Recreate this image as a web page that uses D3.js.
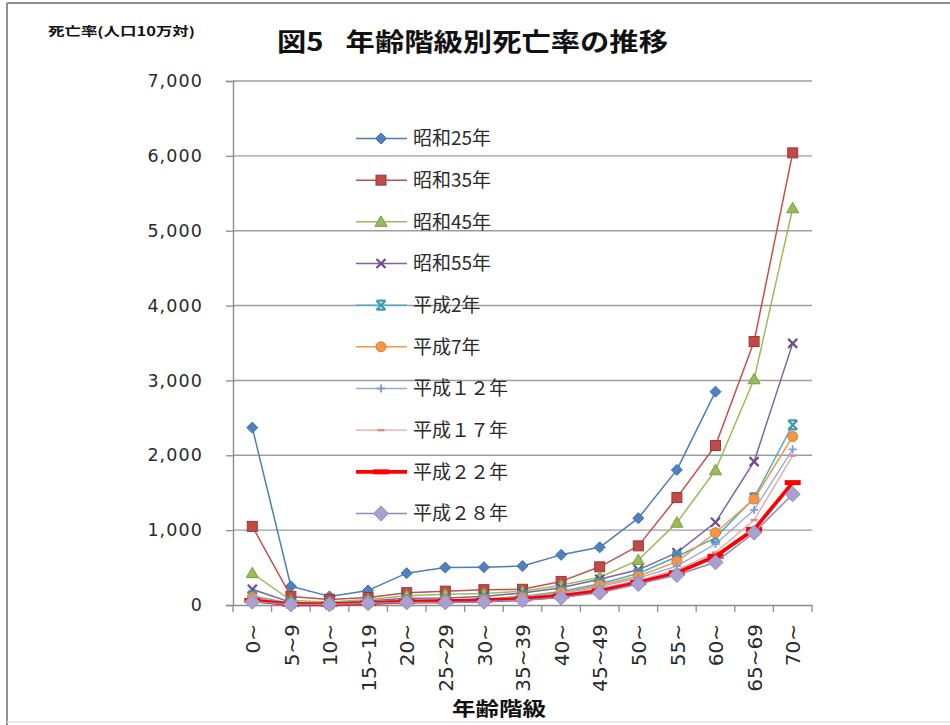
<!DOCTYPE html>
<html>
<head>
<meta charset="utf-8">
<script src="https://cdn.jsdelivr.net/npm/d3@7"></script>
<style>
  body { margin: 0; background: #fff; }
  svg { display: block; }
</style>
</head>
<body>
<svg id="chart" width="950" height="725"></svg>
<script>
// Age groups (x axis)
const categories = ["0~", "5~9", "10~", "15~19", "20~", "25~29", "30~", "35~39",
                    "40~", "45~49", "50~", "55~", "60~", "65~69", "70~"];

// Death rate per 100,000 population, by survey year
const showa25  = [2370, 250, 115, 195, 425, 500, 505, 520, 670, 770, 1160, 1805, 2850, null, null];
const showa35  = [1050, 115, 75, 100, 165, 185, 205, 210, 315, 510, 790, 1435, 2130, 3520, 6040];
const showa45  = [425, 60, 40, 75, 125, 145, 155, 185, 265, 370, 600, 1100, 1800, 3015, 5300];
const showa55  = [210, 35, 25, 55, 90, 95, 115, 160, 230, 345, 470, 700, 1105, 1915, 3495];
const heisei2  = [120, 20, 15, 45, 65, 65, 80, 115, 180, 285, 420, 645, 900, 1430, 2405];
const heisei7  = [100, 18, 14, 40, 60, 65, 75, 105, 165, 265, 385, 580, 965, 1415, 2250];
const heisei12 = [80, 15, 12, 35, 55, 60, 70, 95, 150, 245, 360, 520, 815, 1270, 2080];
const heisei17 = [70, 12, 10, 30, 50, 55, 65, 90, 135, 220, 330, 470, 700, 1135, 1995];
const heisei22 = [60, 10, 9, 25, 45, 50, 60, 80, 120, 190, 300, 430, 650, 1010, 1635];
const heisei28 = [45, 8, 7, 22, 35, 35, 45, 65, 100, 165, 280, 400, 570, 965, 1480];

const seriesNames = ["昭和25年", "昭和35年", "昭和45年", "昭和55年", "平成2年",
                     "平成7年", "平成１２年", "平成１７年", "平成２２年", "平成２８年"];
const seriesValues = [showa25, showa35, showa45, showa55, heisei2,
                      heisei7, heisei12, heisei17, heisei22, heisei28];

const yTicks = [0, 1000, 2000, 3000, 4000, 5000, 6000, 7000];

const chartTitle = "図5\u2002\u2005年齢階級別死亡率の推移";
const yAxisTitle = "死亡率(人口10万対)";
const xAxisTitle = "年齢階級";

// Per-series drawing styles
const styles = [
  { line: "#4A7EBB", width: 1.5, marker: "diamond", fill: "#4F81BD", stroke: "#3E6EA8", r: 5.5 },
  { line: "#C0504D", width: 1.5, marker: "square",  fill: "#BE4B48", stroke: "#9B3A37", r: 5 },
  { line: "#9BBB59", width: 1.5, marker: "triangle",fill: "#9BBB59", stroke: "#7C9A40", r: 6 },
  { line: "#7E62A2", width: 1.5, marker: "x",       fill: "none",    stroke: "#6A4E8E", r: 4.5 },
  { line: "#4BACC6", width: 1.5, marker: "star",    fill: "none",    stroke: "#3C9AB3", r: 4.5 },
  { line: "#F79646", width: 1.5, marker: "circle",  fill: "#F79646", stroke: "#D97E30", r: 5 },
  { line: "#95A9D9", width: 1.3, marker: "plus",    fill: "none",    stroke: "#7F9BD8", r: 4 },
  { line: "#E4A6A5", width: 1.3, marker: "dash",    fill: "#D98C8A", stroke: "none",    r: 3.5 },
  { line: "#FF0000", width: 3.8, marker: "bar",     fill: "#FF0000", stroke: "none",    r: 8 },
  { line: "#8C8CBC", width: 1.5, marker: "diamond", fill: "#A9A0CD", stroke: "#958BBE", r: 7.5 }
];

const svg = d3.select("#chart");
const plotLeft = 233, plotRight = 812, plotTop = 81, plotBottom = 605;

const x = d3.scalePoint().domain(categories).range([plotLeft, plotRight]).padding(0.5);
const xBand = d3.scaleBand().domain(categories).range([plotLeft, plotRight]);
const y = d3.scaleLinear().domain([0, 7000]).range([plotBottom, plotTop]);

// Outer frame
svg.append("line").attr("x1", 7).attr("x2", 7).attr("y1", 3).attr("y2", 725)
  .attr("stroke", "#8f8f8f").attr("stroke-width", 2);
svg.append("line").attr("x1", 7).attr("x2", 950).attr("y1", 3).attr("y2", 3)
  .attr("stroke", "#8f8f8f").attr("stroke-width", 2);
svg.append("line").attr("x1", 7).attr("x2", 950).attr("y1", 722).attr("y2", 722)
  .attr("stroke", "#e2e2e2").attr("stroke-width", 1.5);

// Horizontal gridlines
svg.append("g").selectAll("line")
  .data(yTicks.filter(d => d > 0))
  .join("line")
  .attr("x1", plotLeft).attr("x2", plotRight)
  .attr("y1", d => y(d)).attr("y2", d => y(d))
  .attr("stroke", "#9d9d9d").attr("stroke-width", 1.4);

// Y axis
const yAxis = svg.append("g")
  .attr("transform", `translate(${plotLeft},0)`)
  .call(d3.axisLeft(y).tickValues(yTicks).tickFormat(d3.format(",")).tickSize(7).tickPadding(23));
yAxis.select(".domain").attr("stroke", "#8c8c8c").attr("stroke-width", 1.4);
yAxis.selectAll(".tick line").attr("stroke", "#8c8c8c").attr("stroke-width", 1.3);
yAxis.selectAll("text")
  .attr("font-family", "'DejaVu Sans', Verdana, sans-serif")
  .attr("font-size", 17.5).attr("letter-spacing", 1.1).attr("fill", "#2a2a2a");

// X axis (labels rotated, ticks between categories)
const xAxis = svg.append("g")
  .attr("transform", `translate(0,${plotBottom})`)
  .call(d3.axisBottom(x).tickSize(0).tickPadding(0));
xAxis.select(".domain").attr("stroke", "#8c8c8c").attr("stroke-width", 1.4);
xAxis.selectAll("text")
  .attr("transform", "rotate(-90)")
  .attr("x", -19).attr("y", 0).attr("dy", "0.36em")
  .attr("text-anchor", "end")
  .attr("font-family", "'DejaVu Sans', Verdana, sans-serif")
  .attr("font-size", 20).attr("fill", "#2a2a2a");
const boundaries = categories.map(c => xBand(c)).concat([xBand(categories[categories.length - 1]) + xBand.bandwidth()]);
svg.append("g").selectAll("line")
  .data(boundaries).join("line")
  .attr("x1", d => d).attr("x2", d => d)
  .attr("y1", plotBottom).attr("y2", plotBottom + 7)
  .attr("stroke", "#8c8c8c").attr("stroke-width", 1.3);

// Marker drawing
function marker(g, st, cx, cy) {
  const r = st.r;
  const m = g.append("g").attr("transform", `translate(${cx},${cy})`);
  switch (st.marker) {
    case "diamond":
      m.append("path").attr("d", `M0,${-r}L${r},0L0,${r}L${-r},0Z`)
        .attr("fill", st.fill).attr("stroke", st.stroke).attr("stroke-width", 1);
      break;
    case "square":
      m.append("rect").attr("x", -r).attr("y", -r).attr("width", 2 * r).attr("height", 2 * r)
        .attr("fill", st.fill).attr("stroke", st.stroke).attr("stroke-width", 1);
      break;
    case "triangle":
      m.append("path").attr("d", `M0,${-r}L${r},${r * 0.75}L${-r},${r * 0.75}Z`)
        .attr("fill", st.fill).attr("stroke", st.stroke).attr("stroke-width", 1);
      break;
    case "x":
      m.append("path").attr("d", `M${-r},${-r}L${r},${r}M${-r},${r}L${r},${-r}`)
        .attr("stroke", st.stroke).attr("stroke-width", 2.2).attr("fill", "none");
      break;
    case "star":
      m.append("path").attr("d", `M${-r},${-r}L${r},${r}M${-r},${r}L${r},${-r}M${-r},${-r}L${r},${-r}M${-r},${r}L${r},${r}`)
        .attr("stroke", st.stroke).attr("stroke-width", 2.2).attr("fill", "none");
      break;
    case "circle":
      m.append("circle").attr("r", r)
        .attr("fill", st.fill).attr("stroke", st.stroke).attr("stroke-width", 1);
      break;
    case "plus":
      m.append("path").attr("d", `M${-r},0L${r},0M0,${-r}L0,${r}`)
        .attr("stroke", st.stroke).attr("stroke-width", 1.8).attr("fill", "none");
      break;
    case "dash":
      m.append("rect").attr("x", -r).attr("y", -1.2).attr("width", 2 * r).attr("height", 2.4)
        .attr("fill", st.fill);
      break;
    case "bar":
      m.append("rect").attr("x", -r).attr("y", -2.5).attr("width", 2 * r).attr("height", 5)
        .attr("fill", st.fill);
      break;
  }
}

// Series lines and markers
const line = d3.line()
  .defined(d => d.v != null)
  .x(d => x(d.c))
  .y(d => y(d.v));

const plot = svg.append("g");
seriesValues.forEach((vals, i) => {
  const st = styles[i];
  const pts = vals.map((v, j) => ({ c: categories[j], v }));
  const g = plot.append("g");
  g.append("path").datum(pts)
    .attr("d", line)
    .attr("fill", "none")
    .attr("stroke", st.line)
    .attr("stroke-width", st.width)
    .attr("stroke-linejoin", "round");
  pts.filter(p => p.v != null).forEach(p => marker(g, st, x(p.c), y(p.v)));
});

// Legend
const legend = svg.append("g");
const legendY = d3.scaleLinear().domain([0, seriesNames.length - 1]).range([138.5, 513.5]);
seriesNames.forEach((name, i) => {
  const st = styles[i];
  const ly = legendY(i);
  const g = legend.append("g");
  g.append("line").attr("x1", 356).attr("x2", 407).attr("y1", ly).attr("y2", ly)
    .attr("stroke", st.line).attr("stroke-width", st.width);
  marker(g, st, 381, ly);
  g.append("text").attr("x", 413).attr("y", ly).attr("dy", "0.36em")
    .attr("font-family", "'Noto Sans CJK JP', sans-serif")
    .attr("font-size", 19).attr("fill", "#2a2a2a")
    .text(name);
});

// Titles
svg.append("text")
  .attr("x", 277).attr("y", 51)
  .attr("font-family", "'Noto Sans CJK JP', sans-serif")
  .attr("font-weight", "bold").attr("font-size", 25).attr("fill", "#111")
  .attr("textLength", 391).attr("lengthAdjust", "spacingAndGlyphs")
  .text(chartTitle);

svg.append("text")
  .attr("x", 48).attr("y", 36)
  .attr("font-family", "'Noto Sans CJK JP', sans-serif")
  .attr("font-weight", "bold").attr("font-size", 12.5).attr("fill", "#111")
  .attr("textLength", 147).attr("lengthAdjust", "spacingAndGlyphs")
  .text(yAxisTitle);

svg.append("text")
  .attr("x", 452).attr("y", 716)
  .attr("font-family", "'Noto Sans CJK JP', sans-serif")
  .attr("font-weight", "bold").attr("font-size", 19).attr("fill", "#111")
  .attr("textLength", 94).attr("lengthAdjust", "spacingAndGlyphs")
  .text(xAxisTitle);
</script>
</body>
</html>
